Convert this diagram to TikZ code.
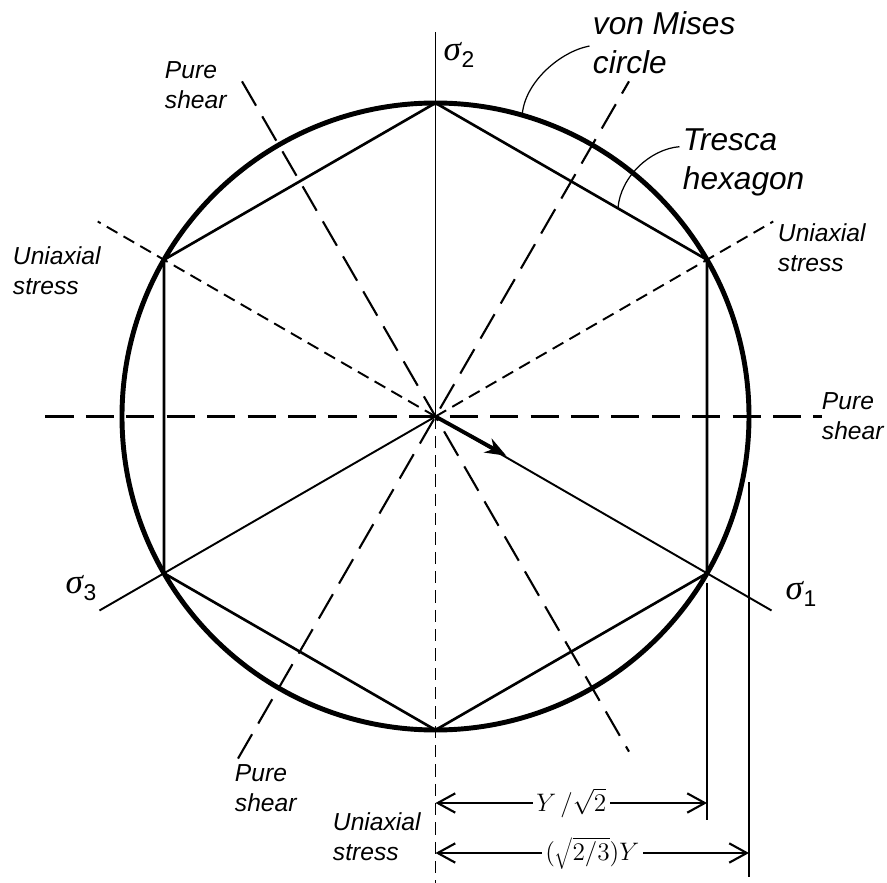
\documentclass[tikz,border=0pt]{standalone}
\usepackage{fontspec}
\setmainfont{Liberation Sans}
\newfontfamily\greekfont{Liberation Serif}
\usetikzlibrary{arrows.meta}

\newcommand{\sig}[1]{{\greekfont\itshape\fontsize{20}{20}\selectfont σ}\kern0.3pt\raisebox{-3.5pt}{\fontsize{13}{13}\selectfont #1}}

\begin{document}
\begin{tikzpicture}[
  x=1cm,
  y=1cm,
  every node/.style={inner sep=0pt, outer sep=0pt},
  note/.style={font=\itshape\fontsize{14}{17}\selectfont, align=left},
  title/.style={font=\itshape\fontsize{18}{22}\selectfont, align=left},
  dimlabel/.style={font=\fontsize{14}{14}\selectfont, fill=white, inner xsep=2pt, inner ysep=0pt},
  mises/.style={line width=2.8pt},
  tresca/.style={line width=1.5pt, line join=miter},
  sigaxis/.style={line width=1.1pt},
  shear/.style={line width=1.2pt, dash pattern=on 16pt off 7pt},
  uniax/.style={line width=1.1pt, dash pattern=on 7pt off 4pt},
  extline/.style={line width=0.7pt},
  dimarrow/.style={line width=1.2pt, {Straight Barb[length=10pt,width=11pt]}-{Straight Barb[length=10pt,width=11pt]}},
  leader/.style={line width=0.7pt}
]

  \path[use as bounding box] (-8.71,-9.33) rectangle (9.03,8.33);

  % Centre, corners and axis ends
  \coordinate (O) at (0,0);
  \foreach \a/\n in {30/ur, 90/t, 150/ul, 210/ll, 270/b, 330/lr}
    \coordinate (\n) at (\a:6.27);
  \coordinate (s1) at (-30:7.76);
  \coordinate (s2) at (90:7.68);
  \coordinate (s3) at (210:7.76);

  % Pure shear directions
  \draw[shear] (180:7.8) -- (0:7.73);
  \draw[shear] (240:7.9) -- (60:7.74);
  \draw[shear] (120:7.74) -- (300:7.74);

  % Uniaxial stress directions
  \draw[uniax] (O) -- (150:7.8);
  \draw[uniax] (O) -- (30:7.8);
  \draw[uniax] (O) -- (0,-9.33);

  % von Mises circle and Tresca hexagon
  \draw[mises] (O) circle (6.27);
  \draw[tresca] (ur) -- (t) -- (ul) -- (ll) -- (b) -- (lr) -- cycle;

  % Principal stress axes
  \draw[sigaxis] (O) -- (s2);
  \draw[sigaxis] (O) -- (s1);
  \draw[sigaxis] (O) -- (s3);
  \draw[line width=2.2pt, -{Stealth[length=12pt,width=9pt]}] (O) -- (-29:1.62);
  \node (l2) at (0.47,7.23) {\sig{2}};
  \node (l3) at (-7.09,-3.43) {\sig{3}};
  \node (l1) at (7.31,-3.55) {\sig{1}};

  % Labels
  \node[title, anchor=west] (vm) at (3.15,7.48) {von Mises\\circle};
  \node[title, anchor=west] (tr) at (4.95,5.08) {Tresca\\hexagon};
  \draw[leader] ([xshift=-2pt,yshift=-2pt]vm.west) .. controls (2.5,7.3) and (1.8,6.7) .. (74:6.3);
  \draw[leader] ([xshift=-2pt,yshift=9pt]tr.west) .. controls (4.3,5.35) and (3.7,4.8) .. (3.65,4.17);

  \node[note, anchor=west] (ps1) at (-5.41,6.63) {Pure\\shear};
  \node[note, anchor=west] (ps2) at (7.73,0) {Pure\\shear};
  \node[note, anchor=west] (ps3) at (-4.01,-7.43) {Pure\\shear};
  \node[note, anchor=west] (ua1) at (-8.45,2.91) {Uniaxial\\stress};
  \node[note, anchor=west] (ua2) at (6.85,3.37) {Uniaxial\\stress};
  \node[note, anchor=west] (ua3) at (-2.05,-8.41) {Uniaxial\\stress};

  % Dimensions
  \draw[extline] ([yshift=-0.2cm]lr) -- (lr |- 0,-8.07);
  \draw[extline] (6.27,-1.31) -- (6.27,-9.21);
  \draw[dimarrow] (0,-7.73) -- (lr |- 0,-7.73) node[dimlabel, midway] {$Y\,/\sqrt{2}$};
  \draw[dimarrow] (0,-8.73) -- (6.27,-8.73) node[dimlabel, midway] {$\bigl(\sqrt{2/3}\bigr)Y$};

\end{tikzpicture}
\end{document}
